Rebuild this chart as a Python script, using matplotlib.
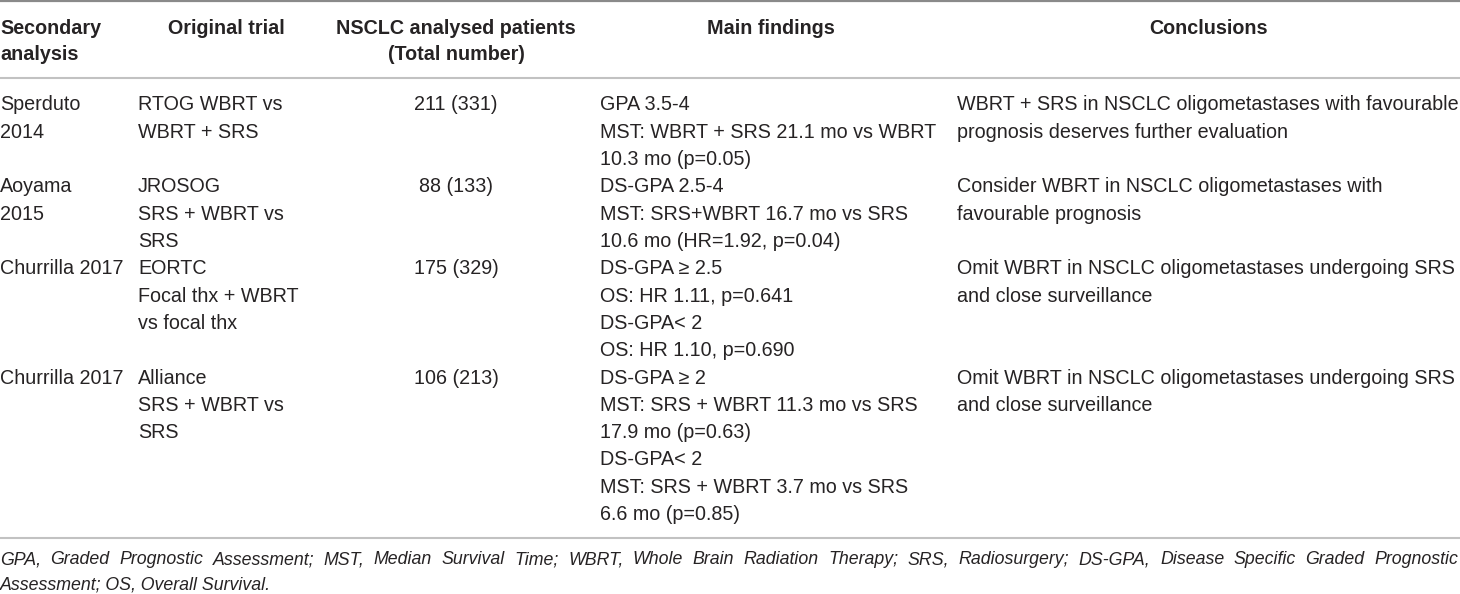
import matplotlib
matplotlib.use("Agg")
import matplotlib.pyplot as plt

# ── table content ────────────────────────────────────────────────────────────
headers = [["Secondary", "analysis"], ["Original trial"],
           ["NSCLC analysed patients", "(Total number)"], ["Main findings"], ["Conclusions"]]

secondary = [["Sperduto", "2014"], ["Aoyama", "2015"], ["Churrilla 2017"], ["Churrilla 2017"]]
trials = [["RTOG WBRT vs", "WBRT + SRS"],
          ["JROSOG", "SRS + WBRT vs", "SRS"],
          ["EORTC", "Focal thx + WBRT", "vs focal thx"],
          ["Alliance", "SRS + WBRT vs", "SRS"]]
patients = [["211 (331)"], ["88 (133)"], ["175 (329)"], ["106 (213)"]]
findings = [["GPA 3.5-4", "MST: WBRT + SRS 21.1 mo vs WBRT", "10.3 mo (p=0.05)"],
            ["DS-GPA 2.5-4", "MST: SRS+WBRT 16.7 mo vs SRS", "10.6 mo (HR=1.92, p=0.04)"],
            ["DS-GPA \u2265 2.5", "OS: HR 1.11, p=0.641", "DS-GPA< 2", "OS: HR 1.10, p=0.690"],
            ["DS-GPA \u2265 2", "MST: SRS + WBRT 11.3 mo vs SRS", "17.9 mo (p=0.63)",
             "DS-GPA< 2", "MST: SRS + WBRT 3.7 mo vs SRS", "6.6 mo (p=0.85)"]]
conclusions = [["WBRT + SRS in NSCLC oligometastases with favourable",
                "prognosis deserves further evaluation"],
               ["Consider WBRT in NSCLC oligometastases with", "favourable prognosis"],
               ["Omit WBRT in NSCLC oligometastases undergoing SRS", "and close surveillance"],
               ["Omit WBRT in NSCLC oligometastases undergoing SRS", "and close surveillance"]]

footnote = ["GPA, Graded Prognostic Assessment; MST, Median Survival Time; WBRT, Whole Brain "
            "Radiation Therapy; SRS, Radiosurgery; DS-GPA, Disease Specific Graded Prognostic",
            "Assessment; OS, Overall Survival."]

# ── layout (pixels) ─────────────────────────────────────────────────────────
W, H = 1460, 594
FONT = ["Liberation Sans", "DejaVu Sans"]
FS = 14.2
FS_NOTE = 12.8
INK = "#262324"
LINE = 27.3
col_left = [0, 138, None, 600, 957]
col_center = [None, 226, 456, 771, 1208]

fig = plt.figure(figsize=(W / 100, H / 100), dpi=100)
ax = fig.add_axes([0, 0, 1, 1])
ax.set_xlim(0, W)
ax.set_ylim(H, 0)
ax.axis("off")


def put(x, y, s, ha="left", size=FS, **kw):
    ax.text(x, y, s, ha=ha, va="center_baseline", fontsize=size, color=INK,
            family=FONT, **kw)


# rules
ax.axhline(1.2, color="#8a8a8a", lw=1.6)
ax.axhline(78, color="#c2c2c2", lw=1.5)

# header
for i, lines in enumerate(headers):
    for k, s in enumerate(lines):
        y = 27 + k * 26
        if i == 0:
            put(col_left[0], y, s, fontweight="bold")
        else:
            put(col_center[i], y, s, ha="center", fontweight="bold")

# body
y0 = 103
columns = [secondary, trials, patients, findings, conclusions]
for r in range(len(secondary)):
    cells = [c[r] for c in columns]
    for i, lines in enumerate(cells):
        for k, s in enumerate(lines):
            y = y0 + k * LINE
            if i == 2:
                put(col_center[2], y, s, ha="center")
            else:
                put(col_left[i], y, s)
    y0 += max(len(c) for c in cells) * LINE

ax.axhline(538, color="#c2c2c2", lw=1.5)

# footnote, first line justified
fig.canvas.draw()
rend = fig.canvas.get_renderer()
words = footnote[0].split(" ")
objs = [ax.text(0, 0, w, fontsize=FS_NOTE, family=FONT, style="italic") for w in words]
widths = []
for o in objs:
    widths.append(o.get_window_extent(renderer=rend).width)
    o.remove()
gap = (W - 2 - sum(widths)) / (len(words) - 1)
x = 0
for w, wd in zip(words, widths):
    put(x, 558, w, size=FS_NOTE, style="italic")
    x += wd + gap
put(0, 583, footnote[1], size=FS_NOTE, style="italic")

fig.savefig("out.png", dpi=100)
